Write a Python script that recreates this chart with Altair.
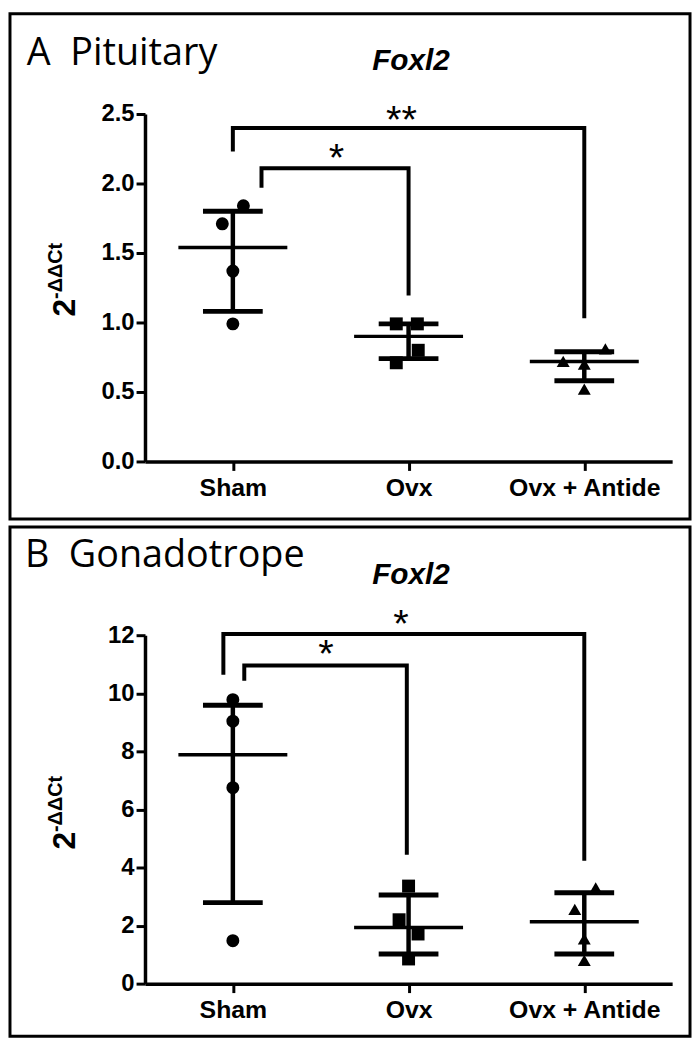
import altair as alt
import pandas as pd

groups = ["Sham", "Ovx", "Ovx + Antide"]
shapes = ["circle", "square", "triangle-up"]

# ---------- Panel A: Pituitary ----------
a_group = [1, 1, 1, 1, 2, 2, 2, 2, 3, 3, 3, 3]
a_value = [1.84, 1.71, 1.37, 0.99, 0.99, 0.99, 0.80, 0.71, 0.72, 0.70, 0.81, 0.52]
a_jitter = [0.06, -0.06, 0.0, 0.0, -0.07, 0.05, 0.055, -0.07, -0.12, 0.0, 0.12, 0.0]
a_mean = [1.54, 0.90, 0.72]
a_lo = [1.08, 0.74, 0.58]
a_hi = [1.80, 0.99, 0.79]
a_br_x1 = [1.0, 1.163]
a_br_x2 = [3.0, 2.0]
a_br_top = [2.40, 2.11]
a_br_left = [2.23, 1.97]
a_br_right = [1.03, 1.195]
a_star = ["**", "*"]
a_star_x = [1.96, 1.59]
a_star_y = [2.47, 2.195]
a_ticks = [0, 0.5, 1.0, 1.5, 2.0, 2.5]

# ---------- Panel B: Gonadotrope ----------
b_group = [1, 1, 1, 1, 2, 2, 2, 2, 3, 3, 3, 3]
b_value = [9.78, 9.04, 6.75, 1.48, 3.36, 2.20, 1.71, 0.85, 3.30, 2.56, 1.54, 0.80]
b_jitter = [0.0, 0.0, 0.0, 0.0, 0.0, -0.054, 0.054, 0.0, 0.065, -0.054, 0.0, 0.0]
b_mean = [7.88, 1.93, 2.13]
b_lo = [2.79, 1.02, 1.02]
b_hi = [9.59, 3.05, 3.13]
b_br_x1 = [0.946, 1.065]
b_br_x2 = [3.0, 1.99]
b_br_top = [12.04, 10.96]
b_br_left = [10.64, 10.43]
b_br_right = [4.23, 4.44]
b_star = ["*", "*"]
b_star_x = [1.957, 1.53]
b_star_y = [12.46, 11.41]
b_ticks = [0, 2, 4, 6, 8, 10, 12]

W = 685
X_RANGE = [136, 667]
MEAN_HALF = 0.31
CAP_HALF = 0.17
LABEL_FONT = "Liberation Sans"
NBSP = "\u00a0"

label_expr = " : ".join(
    f"datum.value == {i + 1} ? '{g}'" for i, g in enumerate(groups[:-1])
) + f" : '{groups[-1]}'"


def panel(H, y0, ytop, ymax, ticks, fmt, grp, val, jit, mean, lo, hi,
          bx1, bx2, btop, bleft, bright, star, sx, sy,
          title, title_x, title_base, gene_base, ylab2_y, ylabsup_y):
    xscale = alt.Scale(domain=[0.5, 3.5], range=X_RANGE, nice=False, zero=False)
    yscale = alt.Scale(domain=[0, ymax], range=[y0, ytop], nice=False, zero=False)
    common = dict(title="", grid=False, domainWidth=3.5, domainColor="black",
                  tickWidth=3, tickColor="black", tickSize=9,
                  labelFont=LABEL_FONT, labelFontWeight="bold",
                  labelColor="black", labelFlush=False, labelOverlap=False,
                  labelBound=False)
    xaxis = alt.Axis(values=[1, 2, 3], labelExpr=label_expr, offset=-(H - y0),
                     labelPadding=5, labelFontSize=25, **common)
    yaxis = alt.Axis(values=ticks, format=fmt, offset=-X_RANGE[0],
                     labelPadding=2, labelFontSize=24, **common)

    def X(f):
        return alt.X(f"{f}:Q", scale=xscale, axis=xaxis)

    def Y(f):
        return alt.Y(f"{f}:Q", scale=yscale, axis=yaxis)

    pts = pd.DataFrame({
        "px": [g + j for g, j in zip(grp, jit)],
        "py": val,
        "grp": [groups[g - 1] for g in grp],
    })
    stats = pd.DataFrame({
        "g": [1, 2, 3], "mean": mean, "lo": lo, "hi": hi,
        "m1": [g - MEAN_HALF for g in (1, 2, 3)],
        "m2": [g + MEAN_HALF for g in (1, 2, 3)],
        "c1": [g - CAP_HALF for g in (1, 2, 3)],
        "c2": [g + CAP_HALF for g in (1, 2, 3)],
    })
    caps = pd.concat([
        stats[["c1", "c2"]].assign(cy=stats["lo"]),
        stats[["c1", "c2"]].assign(cy=stats["hi"]),
    ])
    br_rows = []
    for i in range(len(bx1)):
        br_rows += [
            {"id": i, "k": 0, "bx": bx1[i], "by": bleft[i]},
            {"id": i, "k": 1, "bx": bx1[i], "by": btop[i]},
            {"id": i, "k": 2, "bx": bx2[i], "by": btop[i]},
            {"id": i, "k": 3, "bx": bx2[i], "by": bright[i]},
        ]
    brackets = pd.DataFrame(br_rows)
    stars = pd.DataFrame({"sx": sx, "sy": sy, "s": star})

    l_err = alt.Chart(stats).mark_rule(color="black", strokeWidth=4.5).encode(
        x=X("g"), y=Y("lo"), y2="hi")
    l_mean = alt.Chart(stats).mark_rule(color="black", strokeWidth=3.5).encode(
        x=X("m1"), x2="m2", y=Y("mean"))
    l_caps = alt.Chart(caps).mark_rule(color="black", strokeWidth=5).encode(
        x=X("c1"), x2="c2", y=Y("cy"))
    l_pts = alt.Chart(pts).mark_point(filled=True, opacity=1, color="black").encode(
        x=X("px"), y=Y("py"),
        shape=alt.Shape("grp:N", scale=alt.Scale(domain=groups, range=shapes), legend=None),
        size=alt.Size("grp:N", scale=alt.Scale(domain=groups, range=[170, 170, 180]), legend=None),
    )
    l_br = alt.Chart(brackets).mark_line(color="black", strokeWidth=4,
                                         strokeJoin="miter").encode(
        x=X("bx"), y=Y("by"), detail="id:N", order="k:Q")
    l_star = alt.Chart(stars).mark_text(font=LABEL_FONT, fontSize=40, color="black",
                                        baseline="middle", dy=3).encode(
        x=X("sx"), y=Y("sy"), text="s:N")

    t_title = alt.Chart(pd.DataFrame({"t": [title]})).mark_text(
        font="Open Sans", fontSize=38, color="black", align="left",
        baseline="alphabetic").encode(
        x=alt.value(title_x), y=alt.value(title_base), text="t:N")
    t_gene = alt.Chart(pd.DataFrame({"t": ["Foxl2"]})).mark_text(
        font=LABEL_FONT, fontSize=30, fontWeight="bold", fontStyle="italic",
        color="black", align="center", baseline="alphabetic").encode(
        x=alt.value(404), y=alt.value(gene_base), text="t:N")
    t_y2 = alt.Chart(pd.DataFrame({"t": ["2"]})).mark_text(
        font=LABEL_FONT, fontSize=32, fontWeight="bold", color="black",
        align="center", baseline="alphabetic", angle=270).encode(
        x=alt.value(65), y=alt.value(ylab2_y), text="t:N")
    t_ysup = alt.Chart(pd.DataFrame({"t": ["-\u0394\u0394Ct"]})).mark_text(
        font=LABEL_FONT, fontSize=20, fontWeight="bold", color="black",
        align="center", baseline="alphabetic", angle=270).encode(
        x=alt.value(52), y=alt.value(ylabsup_y), text="t:N")

    return alt.layer(l_err, l_mean, l_caps, l_pts, l_br, l_star,
                     t_title, t_gene, t_y2, t_ysup).properties(width=W, height=H)


pA = panel(509, 451, 101, 2.5, a_ticks, ".1f", a_group, a_value, a_jitter,
           a_mean, a_lo, a_hi, a_br_x1, a_br_x2, a_br_top, a_br_left, a_br_right,
           a_star, a_star_x, a_star_y, "A" + NBSP + NBSP + "Pituitary", 17, 52, 57,
           296, 259)
pB = panel(513, 460, 109, 12, b_ticks, "d", b_group, b_value, b_jitter,
           b_mean, b_lo, b_hi, b_br_x1, b_br_x2, b_br_top, b_br_left, b_br_right,
           b_star, b_star_x, b_star_y, "B" + NBSP + NBSP + "Gonadotrope", 15, 40, 57,
           316, 279)

chart = alt.vconcat(pA, pB, spacing=4).properties(padding=0).configure_view(
    stroke="black", strokeWidth=3)

chart.save("out.html", embed_options={"renderer": "svg", "actions": False})
